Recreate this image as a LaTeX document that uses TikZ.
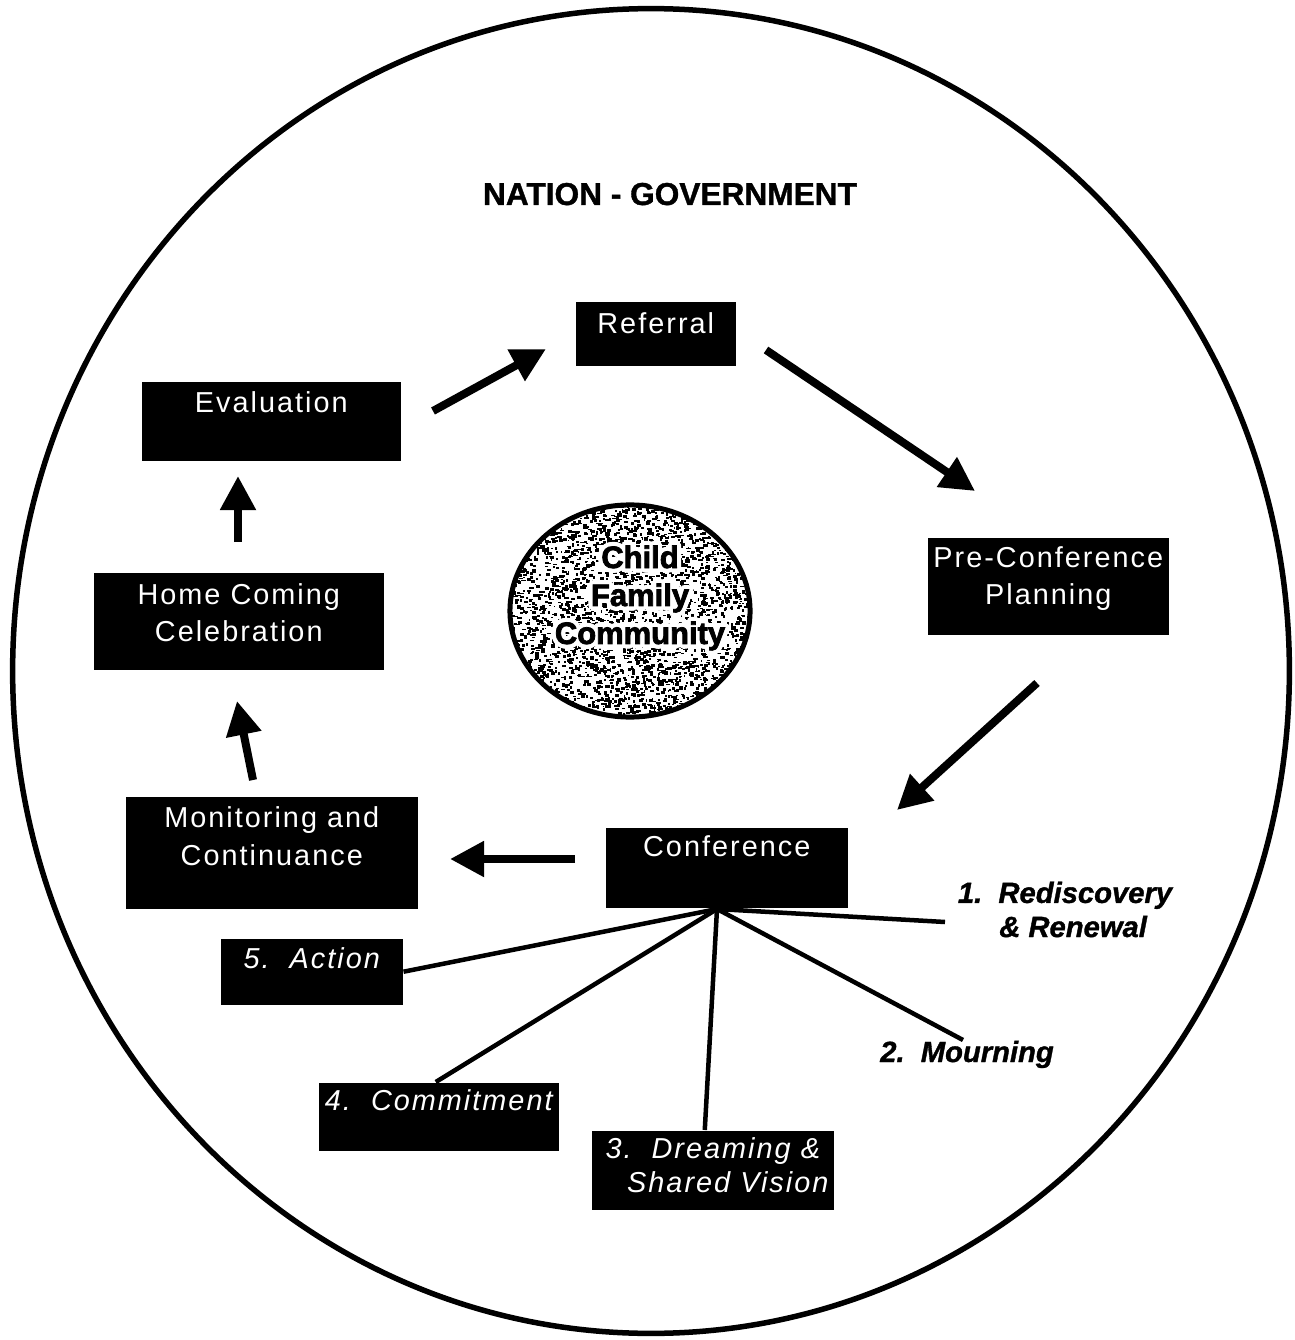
\documentclass[tikz,border=0pt]{standalone}
\usepackage{fontspec}
\usepackage{contour}
\usetikzlibrary{arrows.meta,shapes.geometric}
\setmainfont{Liberation Sans}
\newfontfamily\boxfont[LetterSpace=7]{Liberation Sans}
\newfontfamily\heavyfont[BoldFeatures={FakeBold=2.5}]{Liberation Sans}
\newfontfamily\labelfont[BoldFeatures={FakeBold=1.2},BoldItalicFeatures={FakeBold=1.2}]{Liberation Sans}
\contourlength{1.2pt}
\newcommand{\twoline}[2]{\begin{tabular}[t]{@{}c@{}}#1\\#2\end{tabular}}
\tikzset{
  stagebox/.style={fill=black, text=white, inner sep=0pt, anchor=north west,
    font=\boxfont\fontsize{8.2}{10.6}\selectfont},
  bigarrow/.style={line width=0.08cm, -{Triangle[length=0.34cm,width=0.34cm]}},
  spoke/.style={line width=0.045cm},
  steplabel/.style={font=\labelfont\fontsize{8.3}{9.7}\selectfont\bfseries\itshape, align=center, inner sep=0pt}
}
\begin{document}
\begin{tikzpicture}[x=0.01cm, y=-0.01cm]
\useasboundingbox (0,0) rectangle (1295,1340);
% outer circle
\draw[line width=0.055cm] (651,671) ellipse [x radius=6.38cm, y radius=6.62cm];
\node[font=\labelfont\fontsize{9}{10}\selectfont\bfseries, inner sep=0pt, anchor=base] (nation) at (670,205) {NATION - GOVERNMENT};

% centre circle
\coordinate (cc) at (630,611);
\begin{scope}
  \clip (cc) ellipse [x radius=1.20cm, y radius=1.06cm];
  \fill[white] (cc) ellipse [x radius=1.20cm, y radius=1.06cm];
  \pgfmathsetseed{7}
  \foreach \i in {1,...,3500}{
    \pgfmathsetmacro{\dx}{508+244*rnd}
    \pgfmathsetmacro{\dy}{503+216*rnd}
    \pgfmathsetmacro{\dw}{1.5+3*rnd}
    \pgfmathsetmacro{\dh}{1+2.5*rnd}
    \fill[black] (\dx,\dy) rectangle ++(\dw,\dh);
  }
\end{scope}
\node[draw, line width=0.05cm, ellipse, minimum width=2.40cm, minimum height=2.12cm, inner sep=0pt] (hub0) at (cc) {};
\node[font=\heavyfont\bfseries\fontsize{8.8}{10.8}\selectfont, inner sep=0pt, anchor=base] (cfc) at (640,568)
  {\begin{tabular}[t]{@{}c@{}}\contour{white}{Child}\\\contour{white}{Family}\\\contour{white}{Community}\end{tabular}};

% stage boxes
\node[stagebox, minimum width=1.60cm, text height=0.32cm, text depth=0.32cm] (ref) at (575,301) {Referral};
\node[stagebox, minimum width=2.59cm, text height=0.31cm, text depth=0.48cm] (eval) at (141,381) {Evaluation};
\node[stagebox, minimum width=2.41cm, text height=0.30cm, text depth=0.67cm] (pre) at (927,537) {\twoline{Pre-Conference}{Planning}};
\node[stagebox, minimum width=2.90cm, text height=0.32cm, text depth=0.65cm] (home) at (93,572) {\twoline{Home Coming}{Celebration}};
\node[stagebox, minimum width=2.92cm, text height=0.31cm, text depth=0.81cm] (mon) at (125,796) {\twoline{Monitoring and}{Continuance}};
\node[stagebox, minimum width=2.42cm, text height=0.29cm, text depth=0.51cm] (conf) at (605,827) {Conference};
\node[stagebox, minimum width=1.82cm, text height=0.30cm, text depth=0.36cm, font=\boxfont\itshape\fontsize{8.2}{10.6}\selectfont] (act) at (220,938) {5.\ \ Action};
\node[stagebox, minimum width=2.40cm, text height=0.28cm, text depth=0.40cm, font=\boxfont\itshape\fontsize{8.2}{10.6}\selectfont] (com) at (318,1082) {4.\ \ Commitment};
\node[stagebox, minimum width=2.42cm, text height=0.28cm, text depth=0.51cm, font=\boxfont\itshape\fontsize{8.2}{9.7}\selectfont] (dream) at (591,1130) {\twoline{3.\ \ Dreaming \&}{\ \ \ Shared Vision}};

% step labels
\node[steplabel, anchor=base] (r1) at (1065,937) {1.\ \ Rediscovery\\\ \ \& Renewal};
\node[steplabel, anchor=base] (r2) at (967,1062) {2.\ \ Mourning};

% arrows
\coordinate (a1s) at (433,411); \coordinate (a1e) at (546,349);
\coordinate (a2s) at (766,350); \coordinate (a2e) at (975,491);
\coordinate (a3s) at (1037,683); \coordinate (a3e) at (897,810);
\coordinate (a4s) at (575,859); \coordinate (a4e) at (450,859);
\coordinate (a5s) at (253,780); \coordinate (a5e) at (237,701);
\coordinate (a6s) at (238,542); \coordinate (a6e) at (238,476);
\draw[bigarrow] (a1s) -- (a1e);
\draw[bigarrow] (a2s) -- (a2e);
\draw[bigarrow] (a3s) -- (a3e);
\draw[bigarrow] (a4s) -- (a4e);
\draw[bigarrow] (a5s) -- (a5e);
\draw[bigarrow] (a6s) -- (a6e);

% spokes
\coordinate (hub) at (717,909);
\coordinate (s1) at (945,922);
\coordinate (s2) at (963,1040);
\draw[spoke] (hub) -- (s1);
\draw[spoke] (hub) -- (s2);
\draw[spoke] (hub) -- ([xshift=-0.08cm]dream.north);
\draw[spoke] (hub) -- ([xshift=-0.03cm]com.north);
\draw[spoke] (hub) -- (act.east);
\end{tikzpicture}
\end{document}
